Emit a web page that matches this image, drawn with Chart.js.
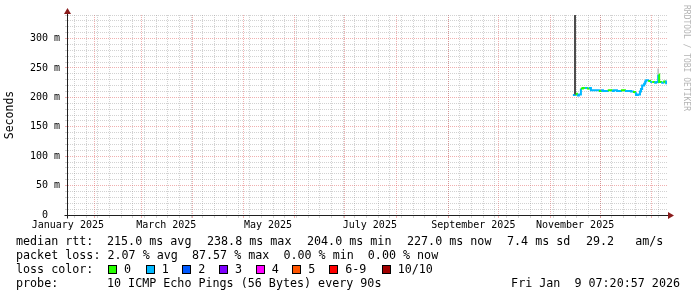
<!DOCTYPE html>
<html>
<head>
<meta charset="utf-8">
<script src="https://cdn.jsdelivr.net/npm/chart.js@4.4.1/dist/chart.umd.min.js"></script>
<style>
  body { margin: 0; background: #fff; }
  #wrap { position: relative; width: 697px; height: 297px; overflow: hidden; background: #fff; font-family: 'DejaVu Sans Mono', monospace; }
  #chart { position: absolute; left: 0; top: 0; }
  .t { position: absolute; font-size: 11.7px; line-height: 14px; white-space: pre; color: #000; }
  .box { position: absolute; width: 7px; height: 7px; border: 1px solid #000; }
  #wm { position: absolute; left: 682px; top: 5px; font-size: 8px; color: #b4b4b4; writing-mode: vertical-rl; white-space: pre; }
</style>
</head>
<body>
<div id="wrap">
  <canvas id="chart" width="697" height="297"></canvas>
  <div id="wm">RRDTOOL / TOBI OETIKER</div>
  <div id="legend"></div>
</div>
<script>
// x values are days counted from 1 Jan 2025 (day 0)
const xMin = 14.5;
const xMax = 374.1;
const yMax = 340;

const monthStarts = [31, 59, 90, 120, 151, 181, 212, 243, 273, 304, 334, 365];
const monthLabelDays = [15, 74, 135, 196, 258, 319];
const monthLabels = ['January 2025', 'March 2025', 'May 2025', 'July 2025', 'September 2025', 'November 2025'];
const firstMonday = 19;

// median rtt (ms) and loss class per sample
const pingDays = [317.7, 318.9, 320.1, 321.3, 322.5, 323.7, 324.9, 326.1, 327.3, 328.5,
  330.9, 333.3, 334.5, 335.7, 338.6, 341.0, 342.2, 344.1, 346.5, 348.9,
  350.1, 352.5, 353.7, 354.9, 355.5, 356.7, 357.9, 358.5, 359.2, 360.4,
  361.0, 361.6, 362.8, 364.0, 365.2, 366.4, 367.6, 368.8, 369.4, 370.6,
  371.8, 373.0, 373.6, 374.1];
const medianMs = [204, 206, 203, 205, 215, 216, 216, 215, 216, 212,
  212, 211, 212, 211, 212, 211, 212, 211, 212, 211,
  211, 210, 209, 207, 204, 205, 210, 214, 220, 223,
  227, 229, 228, 226, 226, 225, 226, 239, 226, 225,
  227, 224, 227, 227];
const lossClass = [6, 1, 0, 1, 1, 0, 0, 1, 0, 1,
  1, 1, 0, 1, 1, 0, 1, 1, 1, 0,
  1, 1, 1, 0, 1, 1, 1, 1, 1, 1,
  1, 1, 1, 0, 1, 0, 1, 1, 0, 0,
  1, 0, 1, 1];

// smoke (spread of the pings)
const darkSmokeDays = [318.95];
const darkSmokeLow = [205];
const darkSmokeHigh = [340];
const lightSmokeDays = [368.8];
const lightSmokeLow = [239];
const lightSmokeHigh = [249];

const lossNames = ['0', '1', '2', '3', '4', '5', '6-9', '10/10'];
const lossColors = ['#26ff00', '#00b8ff', '#0059ff', '#7e00ff', '#ff00ff', '#ff5500', '#ff0000', '#a10000'];
const lossBoxX = [108, 145.7, 182.3, 219, 255.7, 292.3, 329.3, 381.7];

const gridGray = 'rgba(143,143,143,0.4)';
const gridRed = 'rgba(222,79,79,0.45)';
const arrowColor = '#8a1c1c';
const axisColor = '#1f1f1f';

function smokePoints(days, low, high) {
  const pts = [];
  days.forEach((d, i) => {
    pts.push({ x: d, y: low[i] }, { x: d, y: high[i] }, { x: d, y: null });
  });
  return pts;
}

// x ticks: weekly minor lines, monthly major lines, mid-month labels
const xTicks = [];
for (let d = firstMonday; d <= xMax; d += 7) xTicks.push({ value: d, kind: 'minor' });
monthStarts.forEach(d => xTicks.push({ value: d, kind: 'major' }));
monthLabelDays.forEach((d, i) => xTicks.push({ value: d, kind: 'label', text: monthLabels[i] }));
xTicks.sort((a, b) => a.value - b.value);

function xGridColor(c) {
  const t = xTicks[c.index];
  if (!t || t.kind === 'label') return 'rgba(0,0,0,0)';
  return t.kind === 'major' ? gridRed : gridGray;
}

const arrows = {
  id: 'arrows',
  afterDraw(chart) {
    const { ctx, chartArea: a } = chart;
    const x0 = Math.round(a.left) + 0.5;
    const y0 = Math.round(a.bottom) + 0.5;
    ctx.save();
    ctx.strokeStyle = axisColor;
    ctx.lineWidth = 1;
    ctx.beginPath();
    ctx.moveTo(x0 - 3, y0); ctx.lineTo(a.right + 2, y0);
    ctx.moveTo(x0, y0 + 3); ctx.lineTo(x0, a.top - 2);
    ctx.stroke();
    ctx.fillStyle = arrowColor;
    ctx.beginPath();
    ctx.moveTo(a.right + 7, y0); ctx.lineTo(a.right + 1, y0 - 3.5); ctx.lineTo(a.right + 1, y0 + 3.5);
    ctx.closePath(); ctx.fill();
    ctx.beginPath();
    ctx.moveTo(x0, a.top - 7); ctx.lineTo(x0 - 3.5, a.top - 1); ctx.lineTo(x0 + 3.5, a.top - 1);
    ctx.closePath(); ctx.fill();
    ctx.restore();
  }
};

new Chart(document.getElementById('chart'), {
  type: 'line',
  data: {
    datasets: [
      {
        label: 'dark smoke',
        data: smokePoints(darkSmokeDays, darkSmokeLow, darkSmokeHigh),
        borderColor: '#4d4d4d',
        borderWidth: 2,
        pointRadius: 0,
        spanGaps: false,
      },
      {
        label: 'light smoke',
        data: smokePoints(lightSmokeDays, lightSmokeLow, lightSmokeHigh),
        borderColor: '#bdbdbd',
        borderWidth: 1.5,
        pointRadius: 0,
        spanGaps: false,
      },
      {
        label: 'median rtt',
        data: pingDays.map((d, i) => ({ x: d, y: medianMs[i] })),
        borderColor: lossColors[1],
        borderWidth: 2,
        pointRadius: 0,
        stepped: 'before',
        segment: {
          borderColor: c => lossColors[lossClass[c.p1DataIndex]],
        },
      },
    ]
  },
  options: {
    responsive: false,
    animation: false,
    layout: { padding: { top: 15, right: 30, bottom: 0, left: 0 } },
    plugins: { legend: { display: false }, tooltip: { enabled: false } },
    scales: {
      x: {
        type: 'linear',
        min: xMin,
        max: xMax,
        afterBuildTicks: scale => { scale.ticks = xTicks.map(t => ({ value: t.value })); },
        afterFit: scale => { scale.height = 82; },
        grid: {
          color: xGridColor,
          tickColor: xGridColor,
          tickLength: 3,
          lineWidth: 1,
        },
        border: { display: true, color: axisColor, dash: [1, 1] },
        ticks: {
          autoSkip: false,
          maxRotation: 0,
          minRotation: 0,
          padding: 1,
          color: '#000',
          font: { family: "'DejaVu Sans Mono'", size: 10 },
          callback: (v, i) => (xTicks[i] && xTicks[i].kind === 'label') ? xTicks[i].text : '',
        },
      },
      y: {
        min: 0,
        max: yMax,
        afterFit: scale => { scale.width = 67; },
        grid: {
          color: c => (c.tick && c.tick.value % 50 === 0) ? gridRed : gridGray,
          tickColor: c => (c.tick && c.tick.value % 50 === 0) ? gridRed : gridGray,
          tickLength: 2,
          lineWidth: 1,
        },
        border: { display: true, color: axisColor, dash: [1, 1] },
        title: {
          display: true,
          text: 'Seconds',
          color: '#000',
          font: { family: "'DejaVu Sans Mono'", size: 11.5 },
          padding: { top: 3, bottom: 0 },
        },
        ticks: {
          stepSize: 10,
          autoSkip: false,
          padding: 5,
          color: '#000',
          font: { family: "'DejaVu Sans Mono'", size: 10 },
          callback: v => v % 50 !== 0 ? '' : (v === 0 ? '0  ' : v + ' m'),
        },
      },
    },
  },
  plugins: [arrows],
});

// legend block under the graph, laid out like the rrdtool one
const legend = document.getElementById('legend');
function text(x, y, s) {
  const d = document.createElement('div');
  d.className = 't';
  d.style.left = x + 'px';
  d.style.top = y + 'px';
  d.textContent = s;
  legend.appendChild(d);
  return d;
}
const rttItems = ['median rtt:', '215.0 ms avg', '238.8 ms max', '204.0 ms min', '227.0 ms now', '7.4 ms sd', '29.2   am/s'];
const rttX = [16, 107, 207, 307, 407, 507, 586];
rttItems.forEach((s, i) => text(rttX[i], 234, s));
text(16, 248, 'packet loss: 2.07 % avg  87.57 % max  0.00 % min  0.00 % now');
text(16, 262, 'loss color:');
lossNames.forEach((n, i) => {
  const bx = lossBoxX[i];
  const b = document.createElement('div');
  b.className = 'box';
  b.style.left = bx + 'px';
  b.style.top = '265px';
  b.style.background = lossColors[i];
  legend.appendChild(b);
  text(bx + 16, 262, n);
});
text(16, 276, 'probe:');
text(107, 276, '10 ICMP Echo Pings (56 Bytes) every 90s');
const stamp = text(0, 276, 'Fri Jan  9 07:20:57 2026');
stamp.style.left = 'auto';
stamp.style.right = '17px';
</script>
</body>
</html>
